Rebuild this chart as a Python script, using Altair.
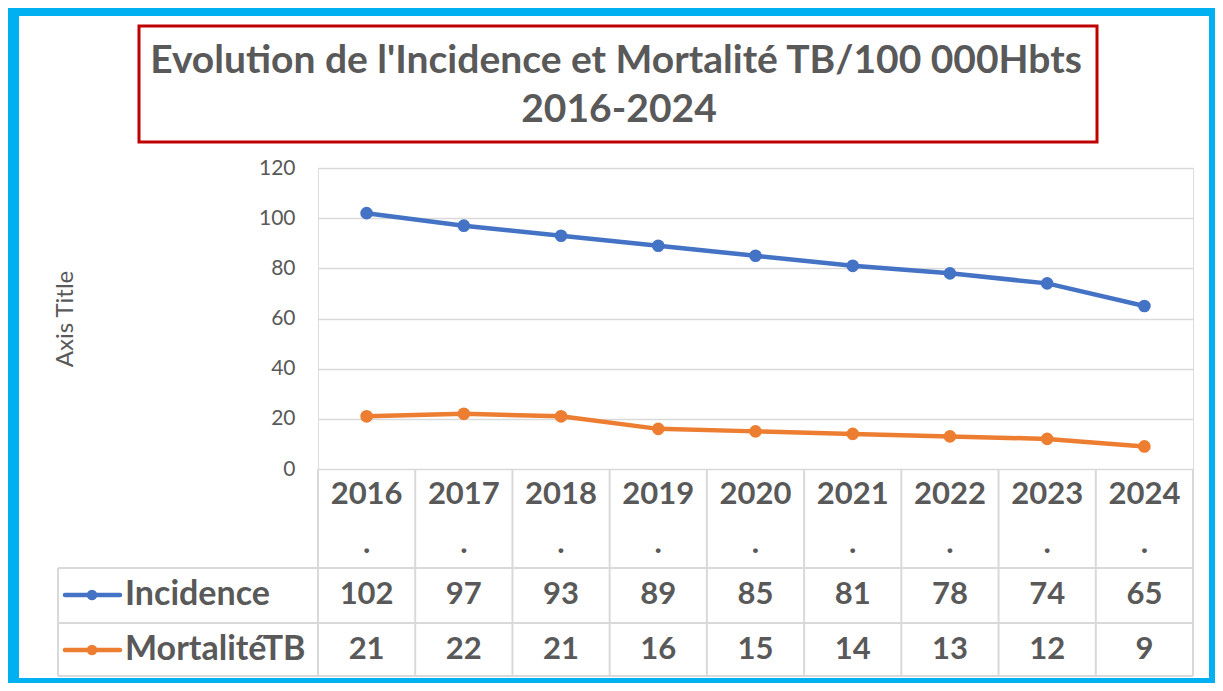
import altair as alt
import pandas as pd

# ---------------- data ----------------
years = ["2016", "2017", "2018", "2019", "2020", "2021", "2022", "2023", "2024"]
incidence = [102, 97, 93, 89, 85, 81, 78, 74, 65]
mortalite = [21, 22, 21, 16, 15, 14, 13, 12, 9]
series_names = ["Incidence", "MortalitéTB"]
series_colors = ["#4472C4", "#ED7D31"]
y_ticks = [0, 20, 40, 60, 80, 100, 120]
title_lines = ["Evolution de l'Incidence et Mortalité TB/100 000Hbts", "2016-2024"]
axis_title = "Axis Title"

rows = []
for name, vals in zip(series_names, [incidence, mortalite]):
    for yr, v in zip(years, vals):
        rows.append({"year": yr, "series": name, "value": v})
df = pd.DataFrame(rows)
year_df = pd.DataFrame({"year": years})
one = pd.DataFrame({"k": [0]})

# ---------------- layout (pixels, relative to plot origin) ----------------
W, H = 875, 301
TEXT = "#595959"
GRID = "#D9D9D9"
FONT = "Lato"
TBL_TOP, ROW1, ROW2, TBL_BOT = H, 400, 455, 508
ROW_CENTERS = [427, 482]
LEFT_BOX = -260

xscale = alt.Scale(type="band", domain=years, paddingInner=0, paddingOuter=0)
color = alt.Color("series:N", scale=alt.Scale(domain=series_names, range=series_colors), legend=None)
xc = alt.X("year:O", scale=xscale, bandPosition=0.5, axis=None)

layers = []

# frame borders
for (x1, x2, y1, y2) in [(-310, 897, -160, -152), (-310, -299, -160, 515),
                         (891, 897, -160, 515), (-310, 897, 510, 515)]:
    layers.append(alt.Chart(one).mark_rect(fill="#00B0F0").encode(
        x=alt.value(x1), x2=alt.value(x2), y=alt.value(y1), y2=alt.value(y2)))

# title box
layers.append(alt.Chart(one).mark_rect(fillOpacity=0, stroke="#C00000", strokeWidth=3).encode(
    x=alt.value(-179), x2=alt.value(779), y=alt.value(-142), y2=alt.value(-26)))
for line, (tx, ty) in zip(title_lines, [(298, -95), (301, -46)]):
    layers.append(alt.Chart(pd.DataFrame({"t": [line]})).mark_text(
        font=FONT, fontSize=39, fontWeight="bold", color=TEXT, align="center",
        baseline="alphabetic").encode(x=alt.value(tx), y=alt.value(ty), text="t:N"))

# main lines (carry the y axis)
lines = alt.Chart(df).mark_line(strokeWidth=4.5).encode(
    x=xc,
    y=alt.Y("value:Q", scale=alt.Scale(domain=[0, 120]),
            axis=alt.Axis(values=y_ticks, grid=True, gridColor=GRID, gridWidth=1.3,
                          domain=False, ticks=False, labelPadding=23, labelFontSize=21,
                          labelFont=FONT, labelColor=TEXT, title=axis_title,
                          titleFont=FONT, titleFontSize=24, titleFontWeight="normal",
                          titleColor=TEXT, titleX=-253, titleY=H / 2, titleAngle=270,
                          titleAlign="center", titleBaseline="middle")),
    color=color)
points = alt.Chart(df).mark_point(filled=True, size=160, opacity=1).encode(
    x=xc, y="value:Q", color=color)

# table grid
layers.append(alt.Chart(year_df).mark_rule(color=GRID, strokeWidth=2).encode(
    x=alt.X("year:O", scale=xscale, bandPosition=0, axis=None),
    y=alt.value(TBL_TOP), y2=alt.value(TBL_BOT)))
layers.append(alt.Chart(one).mark_rule(color=GRID, strokeWidth=2).encode(
    x=alt.value(W), y=alt.value(TBL_TOP), y2=alt.value(TBL_BOT)))
layers.append(alt.Chart(one).mark_rule(color=GRID, strokeWidth=2).encode(
    x=alt.value(LEFT_BOX), y=alt.value(ROW1), y2=alt.value(TBL_BOT)))
for yy in [ROW1, ROW2, TBL_BOT]:
    layers.append(alt.Chart(one).mark_rule(color=GRID, strokeWidth=2).encode(
        x=alt.value(LEFT_BOX), x2=alt.value(W), y=alt.value(yy)))

# table header
layers.append(alt.Chart(year_df).mark_text(
    font=FONT, fontSize=31, fontWeight="bold", color=TEXT, baseline="middle").encode(
    x=xc, y=alt.value(327), text="year:N"))
layers.append(alt.Chart(year_df).mark_text(
    text=".", font=FONT, fontSize=31, fontWeight="bold", color=TEXT, baseline="alphabetic").encode(
    x=xc, y=alt.value(385)))

# table rows + legend keys
for name, col, ry in zip(series_names, series_colors, ROW_CENTERS):
    layers.append(alt.Chart(df).transform_filter(alt.datum.series == name).mark_text(
        font=FONT, fontSize=31, fontWeight="bold", color=TEXT, baseline="middle").encode(
        x=xc, y=alt.value(ry), text="value:Q"))
    key = alt.Chart(pd.DataFrame({"series": [name]}))
    layers.append(key.mark_rule(color=col, strokeWidth=4.5, strokeCap="round").encode(
        x=alt.value(-253), x2=alt.value(-198), y=alt.value(ry)))
    layers.append(key.mark_point(filled=True, size=110, opacity=1, color=col).encode(
        x=alt.value(-226), y=alt.value(ry)))
    layers.append(key.mark_text(font=FONT, fontSize=34, fontWeight="bold", color=TEXT,
                                align="left", baseline="middle").encode(
        x=alt.value(-193), y=alt.value(ry), text="series:N"))

layers += [lines, points]

chart = alt.layer(*layers).properties(
    width=W, height=H,
    autosize=alt.AutoSizeParams(type="none"),
    padding={"left": 310, "top": 160, "right": 22, "bottom": 214},
).configure_view(strokeWidth=0).configure(background="white")

chart.save("out.html", embed_options={"renderer": "svg", "actions": False})
